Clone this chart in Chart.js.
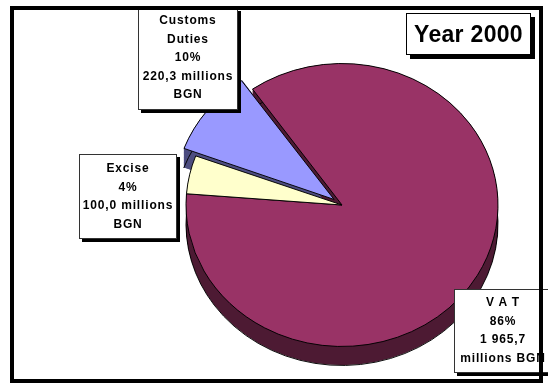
<!DOCTYPE html>
<html><head><meta charset="utf-8">
<script src="https://cdn.jsdelivr.net/npm/chart.js@4/dist/chart.umd.min.js"></script>
<style>
html,body{margin:0;padding:0;background:#fff;}
#wrap{position:relative;width:548px;height:383px;overflow:hidden;font-family:"Liberation Sans",Arial,sans-serif;}
canvas{position:absolute;left:0;top:0;}
.box{position:absolute;background:#fff;border:1px solid #333;box-shadow:3px 3px 0 #000;text-align:center;font-weight:bold;font-size:12px;line-height:18.5px;letter-spacing:0.85px;box-sizing:border-box;color:#000;white-space:nowrap;}
#title{position:absolute;left:406px;top:13px;width:125px;height:42px;box-sizing:border-box;border:1px solid #000;background:#fff;box-shadow:4px 4px 0 #000;font-weight:bold;font-size:23px;line-height:40px;text-align:center;letter-spacing:0.3px;white-space:nowrap;}
#frame{position:absolute;left:10px;top:6px;width:533px;height:377px;border:4px solid #000;box-sizing:border-box;pointer-events:none;}
</style></head>
<body><div id="wrap">
<canvas id="c" width="548" height="383"></canvas>
<div id="lbl0" class="box" style="left:454px;top:289px;width:98px;height:84px;padding-top:3px;"></div>
<div id="lbl1" class="box" style="left:79px;top:154px;width:98px;height:85px;padding-top:4px;"></div>
<div id="lbl2" class="box" style="left:138px;top:8px;width:100px;height:102px;padding-top:2px;"></div>
<div id="title"></div>
<div id="frame"></div>
</div>
<script>
// ---- data ----
const categories = ['V A T', 'Excise', 'Customs Duties'];
const valuesMBGN = [1965.7, 100.0, 220.3];
const unitText = 'millions BGN';
const titleText = 'Year 2000';
const faceColors = ['#993366', '#FFFFCC', '#9999FF'];
const sideColors = ['#4D1A33', '#7F7F66', '#4D4D80'];
const explode = [0, 0, 40];

// ---- helpers ----
const total = valuesMBGN.reduce((a, b) => a + b, 0);
function fmt(v) {
  const parts = v.toFixed(1).split('.');
  parts[0] = parts[0].replace(/\B(?=(\d{3})+(?!\d))/g, ' ');
  return parts.join(',');
}
const pct = valuesMBGN.map(v => Math.round(v / total * 100) + '%');
const unitParts = unitText.split(' ');
const labelLines = [
  [categories[0], pct[0], fmt(valuesMBGN[0]), unitText],
  [categories[1], pct[1], fmt(valuesMBGN[1]) + ' ' + unitParts[0], unitParts[1]],
  [...categories[2].split(' '), pct[2], fmt(valuesMBGN[2]) + ' ' + unitParts[0], unitParts[1]]
];
labelLines.forEach((lines, i) => {
  const el = document.getElementById('lbl' + i);
  lines.forEach((t, j) => {
    if (j) el.appendChild(document.createElement('br'));
    el.appendChild(document.createTextNode(t));
  });
});
document.getElementById('title').textContent = titleText;

// ---- 3D look: vertical squash + extruded side ----
const K = 0.907, DEPTH = 19;
const pie3d = {
  id: 'pie3d',
  beforeDatasetsDraw(chart) {
    const ctx = chart.ctx;
    const meta = chart.getDatasetMeta(0);
    const cx = meta.data[0].x, cy = meta.data[0].y;
    ctx.save();
    ctx.translate(cx, cy); ctx.scale(1, K); ctx.translate(-cx, -cy);
    const d = DEPTH / K;
    const order = [2, 1, 0];
    order.forEach(i => {
      const arc = meta.data[i];
      const p = arc.getProps(['x', 'y', 'startAngle', 'endAngle', 'outerRadius']);
      const circ = p.endAngle - p.startAngle;
      const mid = (p.startAngle + p.endAngle) / 2;
      const off = (arc.options.offset || 0) / 4;
      const r = p.outerRadius + off * (1 - Math.sin(Math.min(Math.PI, circ)));
      const ox = p.x + Math.cos(mid) * off, oy = p.y + Math.sin(mid) * off;
      ctx.fillStyle = sideColors[i];
      for (let t = 0; t <= d; t += 0.5) {
        ctx.beginPath();
        ctx.moveTo(ox, oy + t);
        ctx.arc(ox, oy + t, r, p.startAngle, p.endAngle);
        ctx.closePath();
        ctx.fill();
      }
      ctx.beginPath();
      ctx.arc(ox, oy + d, r, p.startAngle, p.endAngle);
      ctx.strokeStyle = '#000';
      ctx.lineWidth = 1;
      ctx.stroke();
    });
  },
  afterDatasetsDraw(chart) { chart.ctx.restore(); }
};

new Chart(document.getElementById('c'), {
  type: 'pie',
  data: {
    labels: categories,
    datasets: [{
      data: valuesMBGN,
      backgroundColor: faceColors,
      borderColor: '#000',
      borderWidth: 1,
      offset: explode,
      radius: 156
    }]
  },
  options: {
    responsive: false,
    animation: false,
    events: [],
    rotation: -35,
    layout: { padding: { left: 136, right: 0, top: 27, bottom: 0 } },
    plugins: { legend: { display: false }, tooltip: { enabled: false } }
  },
  plugins: [pie3d]
});
</script>
</body></html>
